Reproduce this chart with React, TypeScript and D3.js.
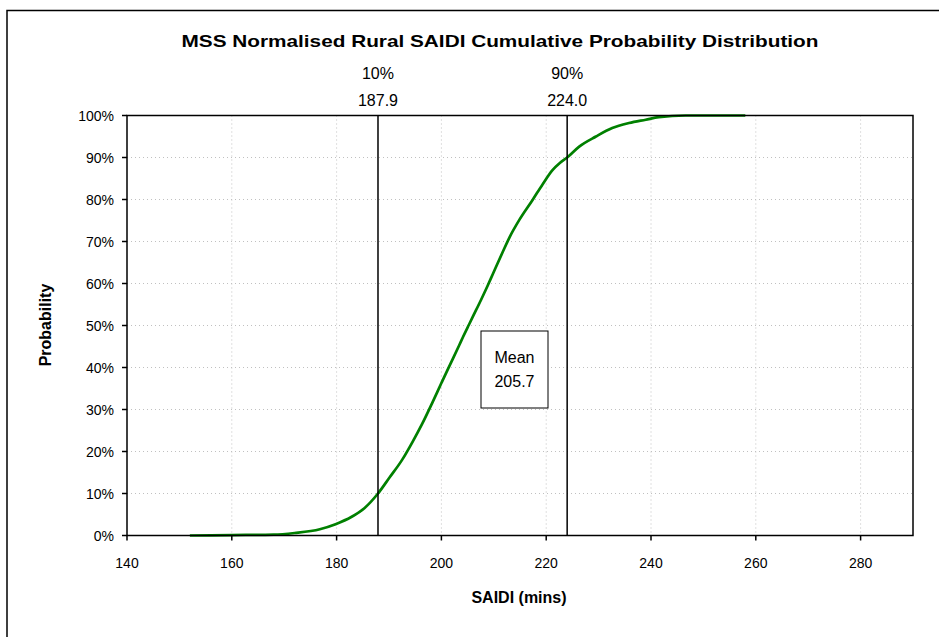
import React from "react";
import * as d3 from "d3";

const saidi = [152, 160, 168, 172, 176.8, 179.8, 182.8, 185.3, 187.9, 190.1, 192.5, 194.5, 196.3, 198.3, 200.0, 201.2, 202.2, 203.4, 204.1, 205.3, 206.0, 207.6, 208.8, 209.8, 211.7, 213.0, 214.9, 217.4, 219.3, 221.2, 222.6, 224.0, 226.3, 229.5, 232.6, 235.8, 239.0, 241.5, 246.6, 258.0];
const prob = [0, 0.1, 0.2, 0.6, 1.5, 2.7, 4.4, 6.5, 10, 13.8, 18, 22.3, 26.5, 31.7, 36.3, 39.5, 42.1, 45.3, 47.2, 50.3, 52.1, 56.2, 59.4, 62.2, 67.5, 71.0, 75.2, 79.9, 83.6, 87.0, 88.7, 90, 92.6, 95, 97, 98.2, 99, 99.6, 100, 100];
const xTicks = [140, 160, 180, 200, 220, 240, 260, 280];
const yTicks = [0, 10, 20, 30, 40, 50, 60, 70, 80, 90, 100];
const markers = [
  { pct: "10%", value: 187.9 },
  { pct: "90%", value: 224.0 },
];
const meanValue = 205.7;

const title = "MSS Normalised Rural SAIDI Cumulative Probability Distribution";
const xLabel = "SAIDI (mins)";
const yLabel = "Probability";

export default function App() {
  const W = 939, H = 637;
  const left = 127, right = 913, top = 115.5, bottom = 535.5;
  const x = d3.scaleLinear().domain([140, 290]).range([left, right]);
  const y = d3.scaleLinear().domain([0, 100]).range([bottom, top]);
  const pts: [number, number][] = saidi.map((s, i) => [s, prob[i]]);
  const line = d3.line<[number, number]>().x(d => x(d[0])).y(d => y(d[1])).curve(d3.curveMonotoneX);
  const font = "Arial, 'Liberation Sans', sans-serif";

  return (
    <svg width={W} height={H} style={{ position: "absolute", left: 0, top: 0 }} fontFamily={font}>
      <rect x={0} y={0} width={W} height={H} fill="#fff" />
      <rect x={7} y={10.5} width={W + 20} height={H + 20} fill="#fff" stroke="#000" strokeWidth={1.5} />
      <text x={500} y={47} textAnchor="middle" fontWeight="bold" fontSize={17} textLength={637} lengthAdjust="spacingAndGlyphs">{title}</text>
      {/* gridlines */}
      {xTicks.filter(t => t > 140).map(t => (
        <line key={"gx" + t} x1={x(t)} x2={x(t)} y1={top} y2={bottom} stroke="#c0c0c0" strokeDasharray="1,3" />
      ))}
      {yTicks.filter(t => t > 0 && t < 100).map(t => (
        <line key={"gy" + t} x1={left} x2={right} y1={y(t)} y2={y(t)} stroke="#c0c0c0" strokeDasharray="1,3" />
      ))}
      {/* curve */}
      <path d={line(pts) || ""} fill="none" stroke="#008000" strokeWidth={2.7} strokeLinejoin="round" />
      {/* frame */}
      <rect x={left} y={top} width={right - left} height={bottom - top} fill="none" stroke="#000" strokeWidth={1.5} />
      {/* ticks */}
      {yTicks.map(t => (
        <g key={"ty" + t}>
          <line x1={left - 5} x2={left} y1={y(t)} y2={y(t)} stroke="#000" strokeWidth={1.5} />
          <text x={left - 13} y={y(t) + 5} textAnchor="end" fontSize={14}>{t + "%"}</text>
        </g>
      ))}
      {xTicks.map(t => (
        <g key={"tx" + t}>
          <line x1={x(t)} x2={x(t)} y1={bottom} y2={bottom + 5} stroke="#000" strokeWidth={1.5} />
          <text x={x(t)} y={568} textAnchor="middle" fontSize={14}>{t}</text>
        </g>
      ))}
      {/* markers */}
      {markers.map(m => (
        <g key={m.pct}>
          <line x1={x(m.value)} x2={x(m.value)} y1={top} y2={bottom} stroke="#000" strokeWidth={1.5} />
          <text x={x(m.value)} y={79} textAnchor="middle" fontSize={16}>{m.pct}</text>
          <text x={x(m.value)} y={106} textAnchor="middle" fontSize={16}>{m.value.toFixed(1)}</text>
        </g>
      ))}
      {/* mean box */}
      <rect x={481} y={331} width={67} height={77} fill="#fff" stroke="#000" strokeWidth={1} />
      <text x={514.5} y={363} textAnchor="middle" fontSize={16}>Mean</text>
      <text x={514.5} y={387} textAnchor="middle" fontSize={16}>{meanValue.toFixed(1)}</text>
      {/* axis labels */}
      <text x={519} y={603} textAnchor="middle" fontWeight="bold" fontSize={16}>{xLabel}</text>
      <text transform={`translate(51,325) rotate(-90)`} textAnchor="middle" fontWeight="bold" fontSize={16}>{yLabel}</text>
    </svg>
  );
}
